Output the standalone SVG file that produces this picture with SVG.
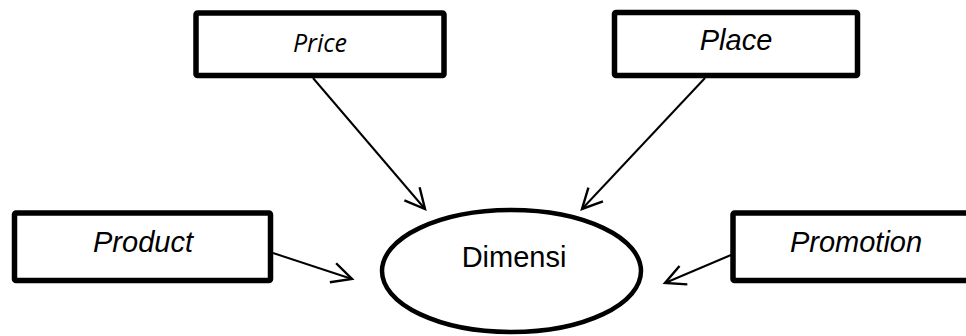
<svg xmlns="http://www.w3.org/2000/svg" width="966" height="336" viewBox="0 0 966 336">
<style>
.box{fill:#fff;stroke:#000;stroke-width:5.5}
.lbl{font-family:"Liberation Sans",Arial,sans-serif;font-size:29px;font-style:italic;fill:#000;text-anchor:middle}
.lbl2{font-family:"Open Sans","Noto Sans",sans-serif;font-size:25px;font-style:italic;fill:#000;text-anchor:middle}
.ctr{font-family:"Liberation Sans",Arial,sans-serif;font-size:29px;fill:#000;text-anchor:middle}
.edge{stroke:#000;stroke-width:2;fill:none}
</style>
<defs>
<marker id="arr" markerUnits="userSpaceOnUse" markerWidth="26" markerHeight="26" viewBox="0 0 26 26" refX="22" refY="13" orient="auto">
<path d="M2,3 L22,13 L2,23" fill="none" stroke="#000" stroke-width="2.4"/>
</marker>
</defs>
<rect width="966" height="336" fill="#fff"/>
<g id="connectors">
<line class="edge" x1="313" y1="78" x2="425" y2="209" marker-end="url(#arr)"/>
<line class="edge" x1="705" y1="78" x2="582" y2="209" marker-end="url(#arr)"/>
<line class="edge" x1="273" y1="253" x2="352" y2="279" marker-end="url(#arr)"/>
<line class="edge" x1="731" y1="255" x2="665" y2="283" marker-end="url(#arr)"/>
</g>
<g id="node-price">
<rect class="box" x="196" y="13" width="248" height="62.5" rx="1.5"/>
<text class="lbl2" x="320" y="52">Price</text>
</g>
<g id="node-place">
<rect class="box" x="614.5" y="12.5" width="243" height="63" rx="1.5"/>
<text class="lbl" x="736" y="50">Place</text>
</g>
<g id="node-product">
<rect class="box" x="14.5" y="213" width="256" height="67.5" rx="1.5"/>
<text class="lbl" x="143" y="252">Product</text>
</g>
<g id="node-promotion">
<rect class="box" x="733" y="213" width="246" height="67.5" rx="1.5"/>
<text class="lbl" x="856" y="252">Promotion</text>
</g>
<g id="node-dimensi">
<ellipse cx="511.5" cy="271" rx="129.5" ry="61" fill="#fff" stroke="#000" stroke-width="4.5"/>
<text class="ctr" x="514" y="267">Dimensi</text>
</g>
</svg>
